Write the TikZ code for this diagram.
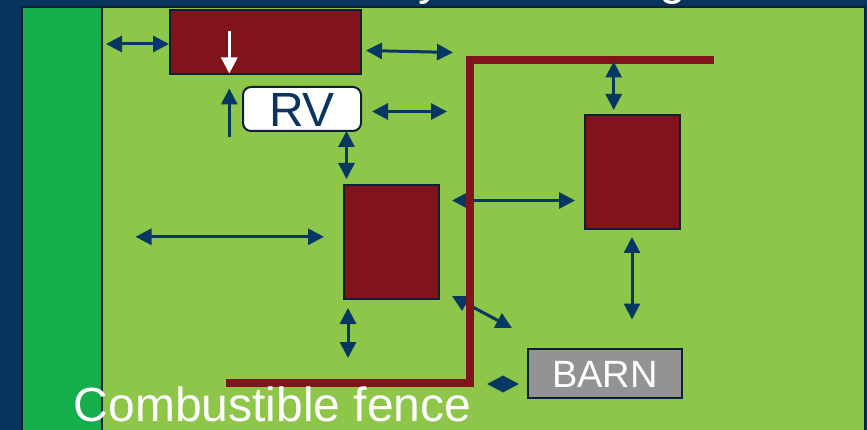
\documentclass[tikz,border=0pt]{standalone}
\usepackage{fontspec}
\setmainfont{Liberation Sans}
\usetikzlibrary{arrows.meta}
\definecolor{navybg}{HTML}{06345C}
\definecolor{outlinec}{HTML}{0D2038}
\definecolor{lightgreen}{HTML}{8DC649}
\definecolor{darkgreen}{HTML}{16AD4C}
\definecolor{housered}{HTML}{80141A}
\definecolor{arrowblue}{HTML}{073763}
\definecolor{barngray}{HTML}{939393}
\definecolor{rvtext}{HTML}{0A3560}
\tikzset{
  house/.style={rectangle, fill=housered, draw=outlinec, line width=2pt, inner sep=0pt},
  dbl/.style={{Triangle[length=16pt,width=16pt]}-{Triangle[length=16pt,width=16pt]}, line width=3pt, draw=arrowblue},
  sgl/.style={-{Triangle[length=16pt,width=16pt]}, line width=3pt, draw=arrowblue},
  whitearrow/.style={-{Triangle[length=16pt,width=16pt]}, line width=3pt, draw=white},
  fence/.style={line width=8pt, draw=housered, line cap=butt, line join=miter},
}
\begin{document}
\begin{tikzpicture}[x=1pt,y=-1pt]
\useasboundingbox (0,0) rectangle (867,430);
\fill[navybg] (0,0) rectangle (867,430);
% title descenders (title cut off above)
\begin{scope}
\clip (0,0) rectangle (867,7);
\node[anchor=base, inner sep=0pt, text=white, font=\fontsize{48}{50}\selectfont] (ty) at (430,-5) {y};
\node[anchor=base, inner sep=0pt, text=white, font=\fontsize{48}{50}\selectfont] (tg) at (673,-5) {g};
\end{scope}
% panel
\fill[lightgreen] (22,7) rectangle (865,432);
\fill[darkgreen] (22,7) rectangle (102,432);
\draw[outlinec, line width=2pt] (102,7) -- (102,432);
\draw[outlinec, line width=2pt] (22,432) -- (22,7) -- (865,7) -- (865,432);
% buildings
\node[house, minimum width=191pt, minimum height=64pt] (h1) at (265.5,42) {};
\node[rectangle, rounded corners=8pt, fill=white, draw=outlinec, line width=2pt, inner sep=0pt,
      minimum width=118pt, minimum height=44pt, text height=35pt, text depth=0pt,
      text=rvtext, font=\fontsize{48}{50}\selectfont] (rv) at (302,109) {RV};
\node[house, minimum width=95pt, minimum height=114pt] (h2) at (391.5,242) {};
\node[house, minimum width=95pt, minimum height=114pt] (h3) at (632.5,172) {};
\node[rectangle, fill=barngray, draw=outlinec, line width=2pt, inner sep=0pt,
      minimum width=154pt, minimum height=49pt, text height=27pt, text depth=0pt,
      text=white, font=\fontsize{38}{40}\selectfont] (barn) at (605,373.5) {BARN};
% arrow end points
\coordinate (a1s) at (106,44);   \coordinate (a1e) at (169,44);
\coordinate (a2s) at (366,50.5); \coordinate (a2e) at (453,52.5);
\coordinate (a3s) at (229.3,31); \coordinate (a3e) at (229.3,73.5);
\coordinate (a4s) at (229.3,137);\coordinate (a4e) at (229.3,88.5);
\coordinate (a5s) at (372,111.5);\coordinate (a5e) at (447,111.5);
\coordinate (a6s) at (346.5,131);\coordinate (a6e) at (346.5,179);
\coordinate (a7s) at (135.5,236.8);\coordinate (a7e) at (324,236.8);
\coordinate (a8s) at (452,200.5);\coordinate (a8e) at (575,200.5);
\coordinate (a9s) at (613.7,61.5);\coordinate (a9e) at (613.7,110);
\coordinate (a10s) at (632,237);\coordinate (a10e) at (632,319.5);
\coordinate (a11s) at (348,308);\coordinate (a11e) at (348,358);
\coordinate (a12s) at (452,296);\coordinate (a12e) at (512,328);
\coordinate (a13s) at (487,384);\coordinate (a13e) at (519,384);
% arrows under the fence
\draw[dbl] (a8s) -- (a8e);
\draw[dbl] (a12s) -- (a12e);
% fence
\draw[fence] (226,383.3) -- (469.7,383.3) -- (469.7,60.3) -- (714,60.3);
% arrows
\draw[dbl] (a1s) -- (a1e);
\draw[dbl] (a2s) -- (a2e);
\draw[whitearrow] (a3s) -- (a3e);
\draw[sgl] (a4s) -- (a4e);
\draw[dbl] (a5s) -- (a5e);
\draw[dbl] (a6s) -- (a6e);
\draw[dbl] (a7s) -- (a7e);
\draw[dbl] (a9s) -- (a9e);
\draw[dbl] (a10s) -- (a10e);
\draw[dbl] (a11s) -- (a11e);
\draw[dbl] (a13s) -- (a13e);
% label
\node[anchor=base west, inner sep=0pt, text=white, font=\fontsize{48}{50}\selectfont] (lbl) at (73.5,421) {Combustible fence};
\end{tikzpicture}
\end{document}
